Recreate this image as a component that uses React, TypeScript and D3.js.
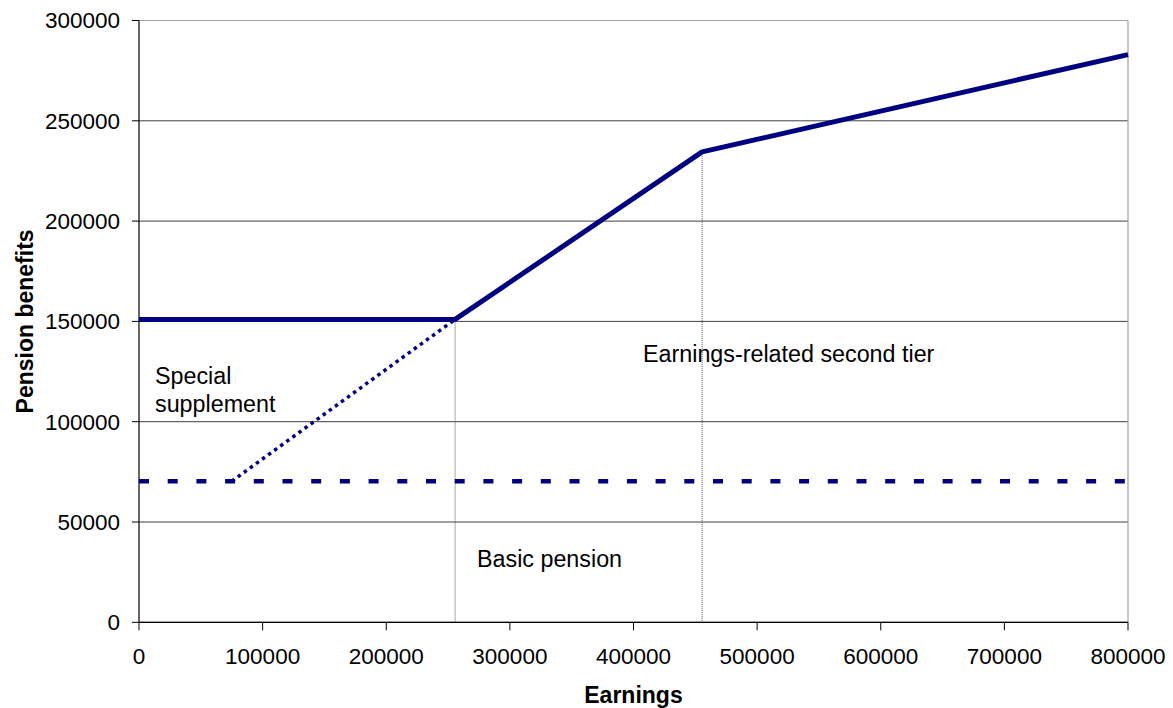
import React from "react";
import * as d3 from "d3";

// Earnings vs. pension benefits, three-tier schedule
const totalBenefit: [number, number][] = [
  [0, 151000],
  [255700, 151000],
  [455500, 234500],
  [800000, 283000],
];
const basicPension: [number, number][] = [
  [0, 70300],
  [800000, 70300],
];
const supplementFloor: [number, number][] = [
  [75000, 70300],
  [255700, 151000],
];
const dropLines: [number, number][] = [
  [255700, 151000],
  [455500, 234500],
];
const xTicks = [0, 100000, 200000, 300000, 400000, 500000, 600000, 700000, 800000];
const yTicks = [0, 50000, 100000, 150000, 200000, 250000, 300000];

const W = 1173;
const H = 708;
const LEFT = 139;
const RIGHT = 1128;
const TOP = 20.5;
const BOTTOM = 622.3;
const NAVY = "#000080";
const FONT = "'Liberation Sans', Arial, Helvetica, sans-serif";

export default function App() {
  const x = d3.scaleLinear().domain([0, 800000]).range([LEFT, RIGHT]);
  const y = d3.scaleLinear().domain([0, 300000]).range([BOTTOM, TOP]);
  const line = d3
    .line<[number, number]>()
    .x((d) => x(d[0]))
    .y((d) => y(d[1]));

  return (
    <svg
      width={W}
      height={H}
      style={{ position: "absolute", left: 0, top: 0, background: "#fff" }}
      fontFamily={FONT}
    >
      {/* horizontal gridlines */}
      {yTicks.map((t) => (
        <line
          key={"g" + t}
          x1={LEFT}
          x2={RIGHT}
          y1={y(t)}
          y2={y(t)}
          stroke={t === 300000 ? "#a0a0a0" : "#404040"}
          strokeWidth={1}
        />
      ))}
      {/* right frame */}
      <line x1={RIGHT} x2={RIGHT} y1={TOP} y2={BOTTOM} stroke="#a0a0a0" strokeWidth={1.2} />

      {/* drop lines to the earnings axis */}
      {dropLines.map((d, i) => (
        <line
          key={"d" + i}
          x1={x(d[0])}
          x2={x(d[0])}
          y1={y(d[1])}
          y2={BOTTOM}
          stroke="#555"
          strokeWidth={1}
          strokeDasharray="1,1"
        />
      ))}

      {/* axes */}
      <line x1={LEFT} x2={LEFT} y1={TOP} y2={BOTTOM} stroke="#000" strokeWidth={1.2} />
      <line x1={LEFT} x2={RIGHT} y1={BOTTOM} y2={BOTTOM} stroke="#000" strokeWidth={1.2} />
      {yTicks.map((t) => (
        <g key={"yt" + t}>
          <line x1={LEFT - 7} x2={LEFT} y1={y(t)} y2={y(t)} stroke="#000" strokeWidth={1} />
          <text
            x={120}
            y={y(t)}
            dy="0.35em"
            textAnchor="end"
            fontSize={22.5}
            fill="#000"
          >
            {t}
          </text>
        </g>
      ))}
      {xTicks.map((t) => (
        <g key={"xt" + t}>
          <line x1={x(t)} x2={x(t)} y1={BOTTOM} y2={BOTTOM + 8} stroke="#000" strokeWidth={1} />
          <text x={x(t)} y={663.5} textAnchor="middle" fontSize={22.5} fill="#000">
            {t}
          </text>
        </g>
      ))}

      {/* series */}
      <path
        d={line(basicPension) || ""}
        fill="none"
        stroke={NAVY}
        strokeWidth={4.5}
        strokeDasharray="10,18.7"
      />
      <path
        d={line(supplementFloor) || ""}
        fill="none"
        stroke={NAVY}
        strokeWidth={3.5}
        strokeDasharray="3.5,4"
      />
      <path
        d={line(totalBenefit) || ""}
        fill="none"
        stroke={NAVY}
        strokeWidth={5}
        strokeLinejoin="round"
      />

      {/* annotations */}
      <text x={155} y={383.5} fontSize={23.3} fill="#000">
        Special
      </text>
      <text x={155} y={411.5} fontSize={23.3} fill="#000">
        supplement
      </text>
      <text x={477} y={567.3} fontSize={23.3} fill="#000">
        Basic pension
      </text>
      <text x={643} y={362.3} fontSize={23.3} fill="#000">
        Earnings-related second tier
      </text>

      {/* axis titles */}
      <text
        x={(LEFT + RIGHT) / 2}
        y={703}
        textAnchor="middle"
        fontSize={23}
        fontWeight="bold"
        fill="#000"
      >
        Earnings
      </text>
      <text
        transform={`translate(33, ${(TOP + BOTTOM) / 2}) rotate(-90)`}
        textAnchor="middle"
        fontSize={23}
        fontWeight="bold"
        fill="#000"
      >
        Pension benefits
      </text>
    </svg>
  );
}
